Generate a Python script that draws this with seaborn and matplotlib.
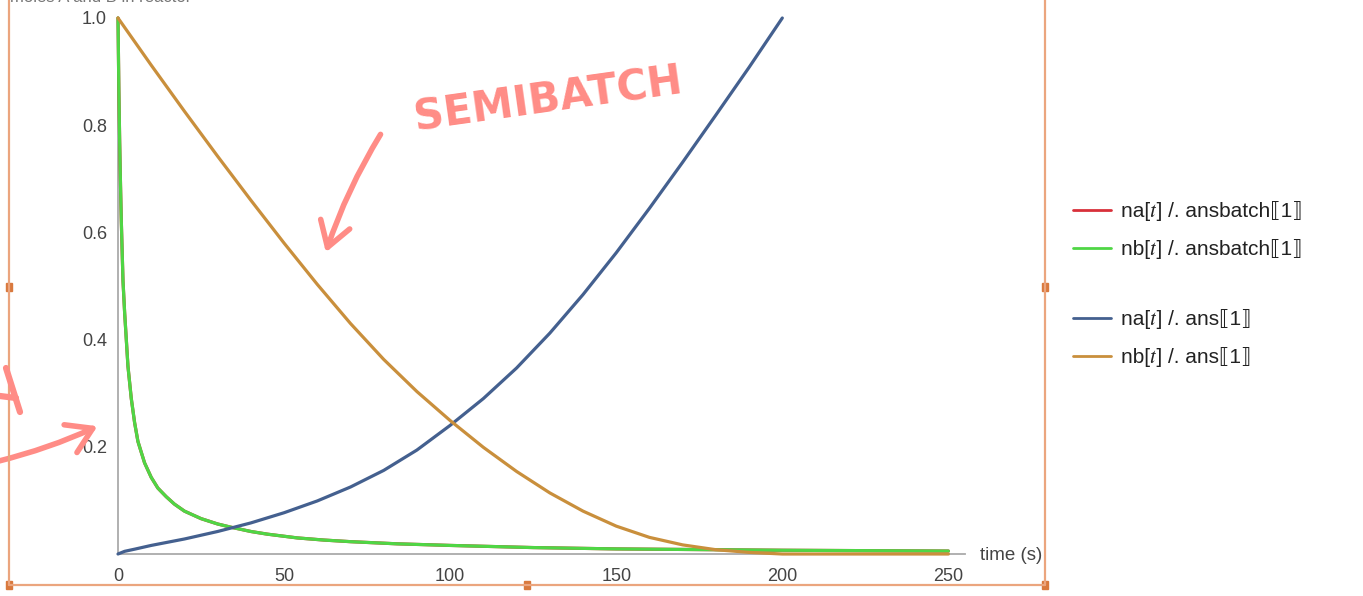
import matplotlib
matplotlib.use("Agg")
import matplotlib.pyplot as plt
import seaborn as sns
from matplotlib.lines import Line2D
from matplotlib.patches import FancyArrowPatch, Rectangle

# ---- data -------------------------------------------------------------
# batch reactor (A and B fed together, equal moles -> identical curves)
t_batch = [0, 0.25, 0.5, 0.75, 1, 1.5, 2, 2.5, 3, 4, 5, 6, 8, 10, 12, 14.5,
           17, 20, 25, 30, 34, 40, 45, 54, 62, 70, 84, 100, 125, 150, 200, 250]
nb_batch = [1.0, 0.87, 0.77, 0.69, 0.62, 0.51, 0.45, 0.4, 0.35, 0.29, 0.245,
            0.21, 0.17, 0.143, 0.123, 0.107, 0.093, 0.08, 0.066, 0.056, 0.05,
            0.042, 0.037, 0.03, 0.026, 0.023, 0.019, 0.016, 0.012, 0.0095,
            0.007, 0.0055]
na_batch = [1.0, 0.87, 0.77, 0.69, 0.62, 0.51, 0.45, 0.4, 0.35, 0.29, 0.245,
            0.21, 0.17, 0.143, 0.123, 0.107, 0.093, 0.08, 0.066, 0.056, 0.05,
            0.042, 0.037, 0.03, 0.026, 0.023, 0.019, 0.016, 0.012, 0.0095,
            0.007, 0.0055]

# semibatch reactor (A fed over 200 s)
t_semi_a = [0, 2, 5, 10, 20, 30, 40, 50, 60, 70, 80, 90, 100, 110, 120, 130,
            140, 150, 160, 170, 180, 190, 200]
na_semi = [0.0, 0.005, 0.009, 0.016, 0.028, 0.042, 0.058, 0.077, 0.099,
           0.125, 0.156, 0.194, 0.24, 0.29, 0.347, 0.412, 0.484, 0.562, 0.645,
           0.731, 0.819, 0.908, 1.0]
t_semi_b = [0, 10, 20, 30, 40, 50, 60, 70, 80, 90, 100, 110, 120, 130, 140,
            150, 160, 170, 180, 190, 200, 225, 250]
nb_semi = [1.0, 0.912, 0.826, 0.742, 0.66, 0.58, 0.503, 0.43, 0.363, 0.303,
           0.249, 0.199, 0.154, 0.114, 0.08, 0.052, 0.031, 0.017, 0.008,
           0.003, 0.0, 0.0, 0.0]

labels = ["na[𝑡] /. ansbatch⟦1⟧", "nb[𝑡] /. ansbatch⟦1⟧",
          "na[𝑡] /. ans⟦1⟧", "nb[𝑡] /. ans⟦1⟧"]
colors = ["#d8303a", "#4fd645", "#44608f", "#c98f3c"]
x_ticks = [0, 50, 100, 150, 200, 250]
y_ticks = [0.2, 0.4, 0.6, 0.8, 1.0]

# ---- style ------------------------------------------------------------
sns.set_theme(style="white")
plt.rcParams["font.family"] = ["Liberation Sans", "DejaVu Sans", "STIXGeneral"]

W, H = 1363, 596
fig = plt.figure(figsize=(W / 100, H / 100), dpi=100)
fig.patch.set_facecolor("white")


def fx(x):
    return x / W


def fy(y):
    return 1 - y / H


ax = fig.add_axes([fx(118), fy(554), fx(965) - fx(118), fy(18) - fy(554)])
ax.set_facecolor("white")

series = [(t_batch, na_batch), (t_batch, nb_batch),
          (t_semi_a, na_semi), (t_semi_b, nb_semi)]
for (tx, vy), c in zip(series, colors):
    sns.lineplot(x=tx, y=vy, color=c, linewidth=2.3, ax=ax, clip_on=False)

ax.set_xlim(0, 255)
ax.set_ylim(0, 1.0)

axis_grey = "#aaaaaa"
for side in ("top", "right"):
    ax.spines[side].set_visible(False)
for side in ("left", "bottom"):
    ax.spines[side].set_color(axis_grey)
    ax.spines[side].set_linewidth(1.3)
    ax.spines[side].set_zorder(0)

ax.set_xticks(x_ticks)
ax.set_xticks(range(0, 251, 10), minor=True)
ax.set_yticks(y_ticks)
ax.set_yticks([0.05 * i for i in range(1, 21)], minor=True)
ax.set_yticklabels([f"{v:.1f}" for v in y_ticks])
ax.tick_params(axis="both", which="major", direction="in", length=6,
               width=1, color="#888888", labelsize=13, labelcolor="#444444")
ax.tick_params(axis="both", which="minor", direction="in", length=3.5,
               width=0.8, color="#999999")
ax.tick_params(axis="x", pad=10)
ax.tick_params(axis="y", pad=8)
ax.set_xlabel("")
ax.set_ylabel("")

fig.text(fx(980), fy(555), "time (s)", fontsize=13.5, color="#444444",
         va="center", ha="left")
fig.text(fx(10), fy(-2), "moles A and B in reactor", fontsize=12,
         color="#777777", va="center", ha="left")

# ---- legend in two groups ---------------------------------------------
handles = [Line2D([], [], color=c, linewidth=2) for c in colors]
leg_kw = dict(frameon=False, fontsize=15, handlelength=1.8,
              handletextpad=0.5, labelspacing=0.85, borderpad=0,
              borderaxespad=0, loc="center left")
fig.legend(handles[:2], labels[:2], bbox_to_anchor=(fx(1073), fy(230)),
           **leg_kw)
fig.legend(handles[2:], labels[2:], bbox_to_anchor=(fx(1073), fy(338)),
           **leg_kw)
for leg in fig.legends:
    for txt in leg.get_texts():
        txt.set_color("#222222")

# ---- selection frame --------------------------------------------------
frame_c = "#eba57e"
fig.add_artist(Line2D([fx(9), fx(9)], [fy(585), 1.0], color=frame_c,
                      linewidth=1.6, transform=fig.transFigure))
fig.add_artist(Line2D([fx(1045), fx(1045)], [fy(585), 1.0], color=frame_c,
                      linewidth=1.6, transform=fig.transFigure))
fig.add_artist(Line2D([fx(9), fx(1045)], [fy(585), fy(585)], color=frame_c,
                      linewidth=1.6, transform=fig.transFigure))
for hx, hy in [(9, 287), (1045, 287), (9, 585), (527, 585), (1045, 585)]:
    fig.add_artist(Rectangle((fx(hx - 3), fy(hy + 4)), fx(6), 8 / H,
                             color="#d9793d", transform=fig.transFigure))

# ---- pen annotations ------------------------------------------------------
pen = "#ff8c86"
fig.text(fx(548), fy(100), "SEMIBATCH", fontsize=30, color=pen,
         rotation=8, ha="center", va="center", fontweight="semibold",
         family="DejaVu Sans")
fig.add_artist(FancyArrowPatch(
    (fx(382), fy(132)), (fx(325), fy(255)), transform=fig.transFigure,
    connectionstyle="arc3,rad=0.06", arrowstyle="->,head_length=8,head_width=5",
    color=pen, linewidth=4, mutation_scale=2.2))
fig.add_artist(FancyArrowPatch(
    (fx(-5), fy(462)), (fx(100), fy(425)), transform=fig.transFigure,
    connectionstyle="arc3,rad=0.05", arrowstyle="->,head_length=8,head_width=5",
    color=pen, linewidth=4, mutation_scale=2.2))
fig.add_artist(Line2D([fx(6), fx(20)], [fy(368), fy(412)], color=pen,
                      linewidth=4.5, solid_capstyle="round",
                      transform=fig.transFigure))
fig.add_artist(Line2D([fx(0), fx(16)], [fy(396), fy(398)], color=pen,
                      linewidth=4.5, solid_capstyle="round",
                      transform=fig.transFigure))

fig.savefig("out.png", dpi=100, facecolor="white")
